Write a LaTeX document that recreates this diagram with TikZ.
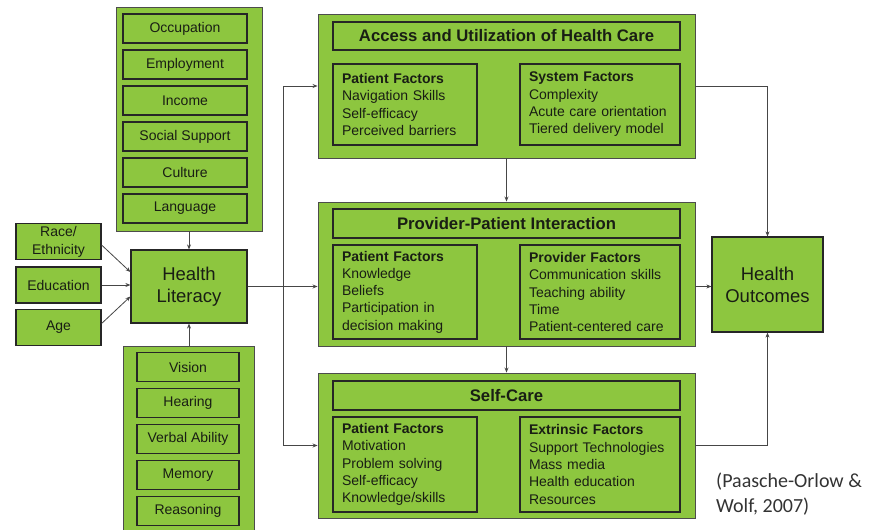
\documentclass[tikz,border=0pt]{standalone}
\usepackage{fontspec}
\setmainfont{Liberation Sans}
\newfontfamily\citefont{Carlito}
\usetikzlibrary{arrows.meta}
\definecolor{leaf}{RGB}{141,198,63}
\definecolor{ink}{RGB}{25,30,20}
\definecolor{wire}{RGB}{70,70,70}

\begin{document}
\begin{tikzpicture}[x=1pt, y=-1pt,
  outer/.style={draw=black!70, line width=0.9pt, fill=leaf, inner sep=0pt},
  inbox/.style={draw=black!85, line width=1.2pt, fill=leaf, inner sep=0pt, text=ink,
    align=center, font=\fontsize{14}{18}\selectfont},
  big/.style={inbox, font=\fontsize{18.5}{22}\selectfont},
  heading/.style={inbox, font=\bfseries\fontsize{16.7}{20}\selectfont},
  facts/.style={draw=black!85, line width=1.2pt, fill=leaf, inner xsep=9pt, inner ysep=0pt,
    text=ink, align=left, font=\fontsize{14}{17.3}\selectfont},
  plain/.style={draw=wire, line width=0.8pt},
  link/.style={plain, -{Stealth[length=5pt,width=4pt]}}]
\useasboundingbox (0,0) rectangle (876,530);

% Social factors
\draw (189,119) node[outer, minimum width=146pt, minimum height=224pt] (social) {};
\draw (185,28.5) node[inbox, minimum width=124pt, minimum height=29pt] (occ) {Occupation};
\draw (185,64.5) node[inbox, minimum width=124pt, minimum height=29pt] (emp) {Employment};
\draw (185,100.5) node[inbox, minimum width=124pt, minimum height=29pt] (inc) {Income};
\draw (185,136.5) node[inbox, minimum width=124pt, minimum height=29pt] (sup) {Social Support};
\draw (185,172.5) node[inbox, minimum width=124pt, minimum height=29pt] (cul) {Culture};
\draw (185,208.5) node[inbox, minimum width=124pt, minimum height=29pt] (lang) {Language};

% Personal factors
\draw (58.5,241.5) node[inbox, minimum width=85pt, minimum height=36pt] (race) {Race/\\Ethnicity};
\draw (58.5,285) node[inbox, minimum width=85pt, minimum height=36pt] (edu) {Education};
\draw (58.5,327.5) node[inbox, minimum width=85pt, minimum height=36pt] (age) {Age};

% Health literacy
\draw (189,286.5) node[big, minimum width=116pt, minimum height=73pt] (hl) {Health\\Literacy};

% Abilities
\draw (188.5,443) node[outer, minimum width=131pt, minimum height=194pt] (senses) {};
\draw (188,367) node[inbox, minimum width=102pt, minimum height=29pt] (vis) {Vision};
\draw (188,403) node[inbox, minimum width=102pt, minimum height=29pt] (hear) {Hearing};
\draw (188,439) node[inbox, minimum width=102pt, minimum height=29pt] (verb) {Verbal Ability};
\draw (188,475) node[inbox, minimum width=102pt, minimum height=29pt] (mem) {Memory};
\draw (188,511) node[inbox, minimum width=102pt, minimum height=29pt] (reas) {Reasoning};

% Access
\draw (506.5,86) node[outer, minimum width=377pt, minimum height=144pt] (access) {};
\draw (506.5,36) node[heading, minimum width=347pt, minimum height=28pt] (accesstitle) {Access and Utilization of Health Care};
\draw (405,104.5) node[facts, text width=126pt, minimum height=81pt] (accessleft)
  {\textbf{Patient Factors}\\Navigation Skills\\Self-efficacy\\Perceived barriers};
\draw (600,104.5) node[facts, text width=142pt, minimum height=81pt] (accessright)
  {\textbf{System Factors}\\Complexity\\Acute care orientation\\Tiered delivery model};

% Interaction
\draw (506.5,274) node[outer, minimum width=377pt, minimum height=144pt] (provider) {};
\draw (506.5,223.5) node[heading, minimum width=347pt, minimum height=29pt] (providertitle) {Provider-Patient Interaction};
\draw (405,292) node[facts, text width=126pt, minimum height=94pt] (providerleft)
  {\textbf{Patient Factors}\\Knowledge\\Beliefs\\Participation in\\decision making};
\draw (600,292) node[facts, text width=142pt, minimum height=94pt] (providerright)
  {\textbf{Provider Factors}\\Communication skills\\Teaching ability\\Time\\Patient-centered care};

% Self-care
\draw (506.5,445.5) node[outer, minimum width=377pt, minimum height=145pt] (care) {};
\draw (506.5,395.5) node[heading, minimum width=347pt, minimum height=29pt] (caretitle) {Self-Care};
\draw (405,464.5) node[facts, text width=126pt, minimum height=95pt] (careleft)
  {\textbf{Patient Factors}\\Motivation\\Problem solving\\Self-efficacy\\Knowledge/skills};
\draw (600,464.5) node[facts, text width=142pt, minimum height=95pt] (careright)
  {\textbf{Extrinsic Factors}\\Support Technologies\\Mass media\\Health education\\Resources};

% Outcomes
\draw (767.5,284.5) node[big, minimum width=111pt, minimum height=95pt] (ho) {Health\\Outcomes};
\draw (716,494.5) node[anchor=west, align=left, inner sep=0pt, text=black!80,
  font=\citefont\fontsize{20}{25}\selectfont] (cite) {(Paasche-Orlow \&\\Wolf, 2007)};

% Links
\coordinate (fork) at (283,0);
\draw[link] (social.south) -- (hl.north);
\draw[link] (hl.south |- senses.north) -- (hl.south);
\draw[link] ([yshift=-3.5pt]race.east) -- ([yshift=14.5pt]hl.west);
\draw[link] (edu.east) -- (edu.east -| hl.west);
\draw[link] ([yshift=4pt]age.east) -- ([yshift=-10pt]hl.west);
\draw[plain] (hl.east) -- (hl.east -| fork);
\draw[plain] (fork |- access.west) -- (fork |- care.west);
\draw[link] (fork |- access.west) -- (access.west);
\draw[link] (hl.east -| fork) -- (hl.east -| provider.west);
\draw[link] (fork |- care.west) -- (care.west);
\draw[link] (access.south) -- (provider.north);
\draw[link] (provider.south) -- (care.north);
\draw[link] (access.east) -| (ho.north);
\draw[link] (hl.east -| provider.east) -- (hl.east -| ho.west);
\draw[link] (care.east) -| (ho.south);
\end{tikzpicture}
\end{document}
